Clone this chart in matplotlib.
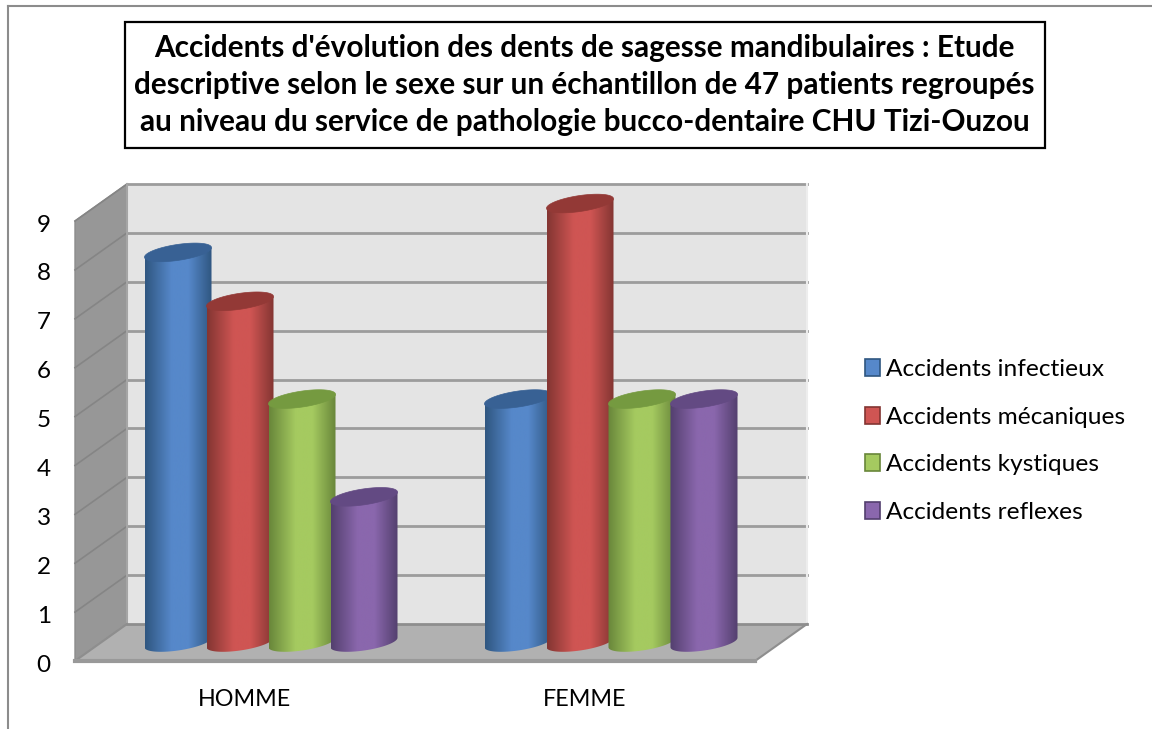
import numpy as np
import matplotlib
matplotlib.use('Agg')
import matplotlib.pyplot as plt
from matplotlib.colors import LinearSegmentedColormap
from matplotlib.lines import Line2D
from matplotlib.patches import Patch, Polygon, Rectangle
from matplotlib.transforms import ScaledTranslation

# --- data ---
categories = ['HOMME', 'FEMME']
series_names = ['Accidents infectieux', 'Accidents mécaniques', 'Accidents kystiques', 'Accidents reflexes']
infectieux = [8, 5]
mecaniques = [7, 9]
kystiques = [5, 5]
reflexes = [3, 5]
series_values = [infectieux, mecaniques, kystiques, reflexes]
title = ("Accidents d'évolution des dents de sagesse mandibulaires : Etude\n"
         "descriptive selon le sexe sur un échantillon de 47 patients regroupés\n"
         "au niveau du service de pathologie bucco-dentaire CHU Tizi-Ouzou")

# --- colours: main, edge of the cylinder, top of the cylinder ---
main_colors = ['#5688CA', '#CF5553', '#A5CA60', '#8A67AD']
edge_colors = ['#2F5680', '#833532', '#68863A', '#533F6E']
top_colors = ['#386194', '#933936', '#759A40', '#634A83']

W, H = 1152, 729
plt.rcParams['font.family'] = ['Lato', 'DejaVu Sans']

fig = plt.figure(figsize=(W / 100, H / 100), dpi=100)

# the axes is the front plane of the 3D box
x0, x1, y0, y9 = 75, 755, 661, 221
ax = fig.add_axes([x0 / W, 1 - y0 / H, (x1 - x0) / W, (y0 - y9) / H])
ax.set_xlim(0, 2)
ax.set_ylim(0, 9)
px_x = 2 / (x1 - x0)
px_y = 9 / (y0 - y9)
dx = 52 * px_x   # depth of the box
dy = 37 * px_y

# --- box ---
ax.add_patch(Polygon([(dx, dy), (2 + dx, dy), (2 + dx, 9 + dy), (dx, 9 + dy)],
                     fc='#E4E4E4', ec='none', clip_on=False, zorder=1))
ax.add_patch(Polygon([(0, 0), (dx, dy), (dx, 9 + dy), (0, 9)],
                     fc='#979797', ec='#8C8C8C', lw=1, clip_on=False, zorder=2))
ax.add_patch(Polygon([(0, 0), (2, 0), (2 + dx, dy), (dx, dy)],
                     fc='#B1B1B1', ec='none', clip_on=False, zorder=2))
for i in range(1, 10):
    ax.plot([dx, 2 + dx], [i + dy, i + dy], color='#9C9C9C', lw=2, clip_on=False, zorder=1.5)
    ax.plot([0, dx], [i, i + dy], color='#858585', lw=1.2, clip_on=False, zorder=2.5)
ax.plot([dx, dx], [dy, 9 + dy], color='#A5A5A5', lw=1.5, clip_on=False, zorder=2.5)
ax.plot([dx, 2 + dx], [dy, dy], color='#8E8E8E', lw=2, clip_on=False, zorder=2.5)
ax.plot([2 + dx, 2 + dx], [dy, 9 + dy], color='#EDEDED', lw=1.5, clip_on=False, zorder=1.5)
ax.plot([2, 2 + dx], [0, dy], color='#8E8E8E', lw=1.5, clip_on=False, zorder=2.5)
ax.plot([0, dx], [0, dy], color='#8E8E8E', lw=1.5, clip_on=False, zorder=2.5)
ax.plot([0, 2], [0, 0], color='#999999', lw=3, clip_on=False, zorder=2.5)

# --- cylinders ---
bar_w = 67 * px_x
bar_step = 62 * px_x
a = bar_w / 2
b = 8 * px_y
slope = (9.5 * px_y) / (67 * px_x)  # the ellipses lean up to the right
t = np.linspace(0, 2 * np.pi, 120)
z = 3
for c, pos in enumerate([0.5, 1.5]):
    for s in range(4):
        v = series_values[s][c]
        cx = pos + dx / 2 + (s - 1.5) * bar_step
        base = dy / 2
        top = base + v - 1 * px_y
        cmap = LinearSegmentedColormap.from_list(
            'cyl', [(0, edge_colors[s]), (0.4, main_colors[s]),
                    (0.65, main_colors[s]), (1, edge_colors[s])])
        tb = np.linspace(np.pi, 2 * np.pi, 60)
        xb = cx + a * np.cos(tb)
        yb = base + b * np.sin(tb) + slope * (xb - cx)
        body = [(cx - a, top - slope * a)] + list(zip(xb, yb)) + [(cx + a, top + slope * a)]
        clip = Polygon(body, closed=True, transform=ax.transData)
        im = ax.imshow(np.linspace(0, 1, 256).reshape(1, -1), cmap=cmap, aspect='auto',
                       extent=[cx - a, cx + a, base - 2 * b, top + 2 * b], zorder=z)
        im.set_clip_path(clip)
        im.set_clip_box(fig.bbox)
        xt = cx + a * np.cos(t)
        yt = top + b * np.sin(t) + slope * (xt - cx)
        ax.add_patch(Polygon(list(zip(xt, yt)), fc=top_colors[s], ec=top_colors[s], lw=0.5,
                             clip_on=False, zorder=z + 0.5))
        z += 1
ax.set_xlim(0, 2)
ax.set_ylim(0, 9)

# --- axes ---
ax.set_facecolor('none')
for sp in ax.spines.values():
    sp.set_visible(False)
ax.set_xticks([0.5, 1.5])
ax.set_xticklabels(categories, fontsize=16.8)
ax.set_yticks(range(10))
ax.set_yticklabels([str(i) for i in range(10)], fontsize=17.5)
ax.tick_params(axis='both', length=0)
ax.tick_params(axis='x', pad=20)
ax.tick_params(axis='y', pad=17.5)
for lab in ax.get_yticklabels():
    lab.set_transform(lab.get_transform() + ScaledTranslation(0, -2 / 100, fig.dpi_scale_trans))

# --- legend ---
handles = [Patch(fc=main_colors[s], ec=edge_colors[s], lw=1.2) for s in range(4)]
fig.legend(handles, series_names, loc='center left', bbox_to_anchor=(855 / W, 1 - 441 / H),
           frameon=False, fontsize=17.6, handlelength=0.62, handleheight=0.7,
           handletextpad=0.24, labelspacing=1.08, borderpad=0.4, borderaxespad=0)

# --- frame and title box ---
fig.add_artist(Line2D([8 / W, 8 / W], [0, 1 - 6 / H], color='#8C8C8C', lw=1.5))
fig.add_artist(Line2D([8 / W, 1], [1 - 6 / H, 1 - 6 / H], color='#8C8C8C', lw=1.5))
fig.add_artist(Rectangle((124.5 / W, 1 - 148 / H), 920 / W, 126 / H, transform=fig.transFigure,
                         fc='white', ec='black', lw=1.6))
fig.text(584.5 / W, 1 - 85 / H, title, ha='center', va='center', fontsize=21.4,
         fontweight='bold', linespacing=1.4, color='black')

fig.savefig('out.png', dpi=100)
